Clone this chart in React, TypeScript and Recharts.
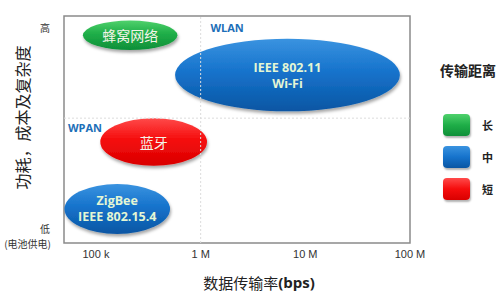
import { ScatterChart, Scatter, XAxis, YAxis, ReferenceArea, ReferenceLine, Label } from 'recharts';

// x axis: data rate in bps (log scale), y axis: power / cost / complexity level 0-100
const RATE_DOMAIN = [49500, 1e8];
const RATE_TICKS = [1e5, 1e6, 1e7, 1e8];
const RATE_TICK_LABELS = ['100 k', '1 M', '10 M', '100 M'];
const LEVEL_TICKS = [3, 95];

// bubbles
const bubbleLines = [['蜂窝网络'], ['IEEE 802.11', 'Wi-Fi'], ['蓝牙'], ['ZigBee', 'IEEE 802.15.4']];
const bubbleRateMin = [75e3, 570e3, 110e3, 50e3];
const bubbleRateMax = [600e3, 80e6, 1.15e6, 510e3];
const bubbleLevelMin = [85, 58, 34, 4];
const bubbleLevelMax = [98, 90, 55, 26];
const bubbleRange = ['长', '中', '短', '中'];

// group labels
const groupNames = ['WLAN', 'WPAN'];
const groupRate = [1.79e6, 78.6e3];
const groupLevel = [95, 50.7];

// legend
const legendTitle = '传输距离';
const rangeNames = ['长', '中', '短'];
const rangeColors: Record<string, [string, string, string]> = {
  长: ['#4fd16c', '#1fae48', '#0e8f38'],
  中: ['#3a93e0', '#1673cc', '#0a56a3'],
  短: ['#ff4a4a', '#f50d0d', '#d90000'],
};

const CJK = '"Noto Sans CJK SC", "Noto Sans", sans-serif';
const LATIN = '"Open Sans", "Liberation Sans", sans-serif';

const groupData = groupNames.map((name, i) => ({ name, rate: groupRate[i], level: groupLevel[i] }));

const isLatin = (s: string) => /^[\x00-\x7f]+$/.test(s);

const makeEllipse = (idx: number) => (props: any) => {
  const { x, y, width, height } = props;
  const cx = x + width / 2;
  const cy = y + height / 2;
  const [light, mid, dark] = rangeColors[bubbleRange[idx]];
  const lines = bubbleLines[idx];
  const latin = isLatin(lines[0]);
  const fs = latin ? 12.5 : 14;
  const lh = 16;
  const gid = `grad-${idx}`;
  const fid = `shadow-${idx}`;
  return (
    <g>
      <defs>
        <linearGradient id={gid} x1="0" y1="0" x2="0" y2="1">
          <stop offset="0%" stopColor={light} />
          <stop offset="45%" stopColor={mid} />
          <stop offset="100%" stopColor={dark} />
        </linearGradient>
        <filter id={fid} x="-20%" y="-30%" width="140%" height="170%">
          <feDropShadow dx="1" dy="2.5" stdDeviation="1.8" floodColor="#000" floodOpacity="0.35" />
        </filter>
      </defs>
      <ellipse cx={cx} cy={cy} rx={width / 2} ry={height / 2} fill={`url(#${gid})`} filter={`url(#${fid})`} />
      {lines.map((t, k) => (
        <text
          key={k}
          x={cx}
          y={cy + (k - (lines.length - 1) / 2) * lh}
          textAnchor="middle"
          dominantBaseline="central"
          fontFamily={latin ? LATIN : CJK}
          fontWeight={latin ? 700 : 400}
          fontSize={fs}
          fill={latin ? '#e4f6d4' : '#f4f4e8'}
        >
          {t}
        </text>
      ))}
    </g>
  );
};

const PlotFrame = (props: any) => (
  <rect x={props.x} y={props.y} width={props.width} height={props.height} fill="none" stroke="#8a8a8a" strokeWidth={1.5} />
);

const GroupLabel = (props: any) => (
  <text
    x={props.cx}
    y={props.cy}
    textAnchor="middle"
    dominantBaseline="central"
    fontFamily={LATIN}
    fontWeight={700}
    fontSize={11}
    fill="#1d6fb8"
  >
    {props.payload.name}
  </text>
);

const YTick = (props: any) => {
  const { x, y, payload } = props;
  if (payload.value > 50) {
    return (
      <text x={x} y={y} textAnchor="end" dominantBaseline="central" fontFamily={CJK} fontSize={10} fill="#333">
        高
      </text>
    );
  }
  return (
    <g>
      <text x={x} y={y - 8} textAnchor="end" dominantBaseline="central" fontFamily={CJK} fontSize={10} fill="#333">
        低
      </text>
      <text x={x + 1} y={y + 7} textAnchor="end" dominantBaseline="central" fontFamily={CJK} fontSize={10} fill="#333">
        (电池供电)
      </text>
    </g>
  );
};

const XTick = (props: any) => {
  const { x, y, payload } = props;
  const i = RATE_TICKS.indexOf(payload.value);
  return (
    <text x={x} y={y + 7} textAnchor="middle" fontFamily={'"Liberation Sans", Arial, sans-serif'} fontSize={11} fill="#333">
      {RATE_TICK_LABELS[i]}
    </text>
  );
};

const YTitle = (props: any) => {
  const vb = props.viewBox;
  const x = vb.x + 22;
  const y = vb.y + vb.height / 2 - 12;
  return (
    <text x={x} y={y} transform={`rotate(-90, ${x}, ${y})`} textAnchor="middle" dominantBaseline="central" fontFamily={CJK} fontSize={16} fill="#222">
      功耗，成本及复杂度
    </text>
  );
};

const XTitle = (props: any) => {
  const vb = props.viewBox;
  const x = vb.x + vb.width / 2 + 22;
  const y = vb.y + 39;
  return (
    <text x={x} y={y} textAnchor="middle" dominantBaseline="central" fontSize={15} fill="#222">
      <tspan fontFamily={CJK}>数据传输率</tspan>
      <tspan fontFamily={LATIN} fontWeight={700}>(bps)</tspan>
    </text>
  );
};

export default function App() {
  return (
    <div style={{ position: 'absolute', left: 0, top: 0, width: 500, height: 292, background: '#fff' }}>
      <ScatterChart width={500} height={292} margin={{ top: 16, right: 90, bottom: 0, left: 0 }}>
        <XAxis
          type="number"
          dataKey="rate"
          scale="log"
          domain={RATE_DOMAIN}
          ticks={RATE_TICKS}
          tick={<XTick />}
          tickLine={false}
          axisLine={false}
          height={49}
          allowDataOverflow
        >
          <Label content={<XTitle />} />
        </XAxis>
        <YAxis
          type="number"
          dataKey="level"
          domain={[0, 100]}
          ticks={LEVEL_TICKS}
          tick={<YTick />}
          tickLine={false}
          axisLine={false}
          width={64}
          tickMargin={8}
          allowDataOverflow
        >
          <Label content={<YTitle />} />
        </YAxis>
        <ReferenceArea x1={RATE_DOMAIN[0]} x2={RATE_DOMAIN[1]} y1={0} y2={100} ifOverflow="visible" shape={PlotFrame} />
        <ReferenceLine x={1e6} stroke="#dcdcdc" strokeDasharray="2 2" />
        <ReferenceLine y={55} stroke="#dcdcdc" strokeDasharray="2 2" />
        {bubbleLines.map((_, i) => (
          <ReferenceArea
            key={i}
            x1={bubbleRateMin[i]}
            x2={bubbleRateMax[i]}
            y1={bubbleLevelMin[i]}
            y2={bubbleLevelMax[i]}
            ifOverflow="visible"
            shape={makeEllipse(i)}
          />
        ))}
        <Scatter data={groupData} dataKey="level" shape={<GroupLabel />} isAnimationActive={false} />
      </ScatterChart>
      <div style={{ position: 'absolute', left: 440, top: 60, fontFamily: CJK }}>
        <div style={{ fontSize: 14, fontWeight: 700, color: '#222', lineHeight: '20px', whiteSpace: 'nowrap' }}>{legendTitle}</div>
        <div style={{ marginTop: 29 }}>
          {rangeNames.map((r) => {
            const [light, mid, dark] = rangeColors[r];
            return (
              <div key={r} style={{ display: 'flex', alignItems: 'center', height: 32, marginLeft: 3 }}>
                <div
                  style={{
                    width: 27,
                    height: 22,
                    borderRadius: 4,
                    background: `linear-gradient(${light}, ${mid} 50%, ${dark})`,
                    boxShadow: '1px 2px 2px rgba(0,0,0,0.3)',
                  }}
                />
                <span style={{ marginLeft: 12, fontSize: 11, fontWeight: 700, color: '#222' }}>{r}</span>
              </div>
            );
          })}
        </div>
      </div>
    </div>
  );
}
